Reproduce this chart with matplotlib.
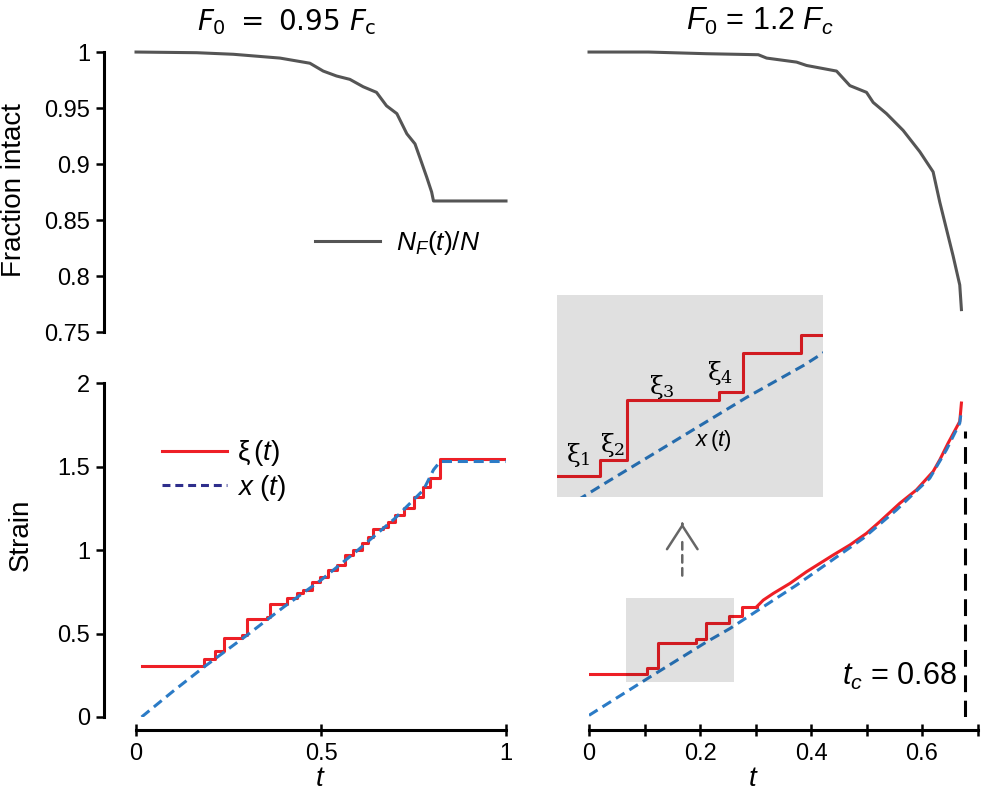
import matplotlib
matplotlib.use("Agg")
import matplotlib.pyplot as plt
from matplotlib.lines import Line2D
from matplotlib.patches import Rectangle
from matplotlib.ticker import FormatStrFormatter

plt.rcParams['font.family'] = ['Liberation Sans', 'DejaVu Sans']
plt.rcParams['mathtext.fontset'] = 'custom'
plt.rcParams['mathtext.rm'] = 'Liberation Sans'
plt.rcParams['mathtext.it'] = 'Liberation Sans:italic'
plt.rcParams['mathtext.bf'] = 'Liberation Sans:bold'
plt.rcParams['mathtext.sf'] = 'Liberation Sans'

# fraction of intact bonds, F0 = 0.95 Fc
t_frac_a = [0, 0.164, 0.263, 0.389, 0.47, 0.506, 0.542, 0.578, 0.614, 0.65, 0.677,
            0.705, 0.732, 0.754, 0.768, 0.786, 0.799, 0.804, 1.0]
frac_a = [1.0, 0.9994, 0.998, 0.9946, 0.990, 0.983, 0.9786, 0.9756, 0.969, 0.964, 0.952,
          0.945, 0.927, 0.918, 0.905, 0.888, 0.875, 0.867, 0.867]

# fraction of intact bonds, F0 = 1.2 Fc
t_frac_b = [0, 0.107, 0.212, 0.305, 0.32, 0.374, 0.392, 0.446, 0.47, 0.50, 0.512, 0.536,
            0.566, 0.596, 0.62, 0.632, 0.644, 0.656, 0.668, 0.671]
frac_b = [1.0, 1.0, 0.9985, 0.9976, 0.9946, 0.991, 0.988, 0.983, 0.970, 0.964, 0.955, 0.945,
          0.930, 0.911, 0.893, 0.866, 0.842, 0.818, 0.792, 0.770]

# strain, F0 = 0.95 Fc
t_xi_a = [0.015, 0.184, 0.214, 0.237, 0.286, 0.300, 0.353, 0.362, 0.408, 0.434, 0.452,
          0.475, 0.497, 0.52, 0.542, 0.565, 0.587, 0.61, 0.628, 0.641, 0.668, 0.682,
          0.70, 0.723, 0.75, 0.777, 0.795, 0.822, 1.0]
xi_a = [0.305, 0.35, 0.397, 0.471, 0.49, 0.585, 0.60, 0.675, 0.711, 0.741, 0.76,
        0.81, 0.836, 0.88, 0.91, 0.97, 1.0, 1.04, 1.08, 1.126, 1.14, 1.17,
        1.21, 1.25, 1.319, 1.379, 1.429, 1.545, 1.545]
t_x_a = [0.015, 0.1, 0.184, 0.3, 0.4, 0.5, 0.6, 0.7, 0.777, 0.804, 0.822, 1.0]
x_a = [0.0, 0.154, 0.30, 0.49, 0.66, 0.82, 1.0, 1.19, 1.36, 1.48, 1.53, 1.53]

# strain, F0 = 1.2 Fc
t_xi_b = [0.0, 0.105, 0.125, 0.192, 0.21, 0.252, 0.275, 0.302]
xi_b = [0.257, 0.295, 0.445, 0.465, 0.56, 0.605, 0.66, 0.66]
t_xi_b_tail = [0.302, 0.314, 0.332, 0.362, 0.392, 0.416, 0.44, 0.47, 0.50, 0.524, 0.56,
               0.59, 0.62, 0.632, 0.647, 0.668, 0.671]
xi_b_tail = [0.66, 0.70, 0.74, 0.80, 0.87, 0.92, 0.97, 1.03, 1.10, 1.17, 1.28,
             1.36, 1.47, 1.54, 1.64, 1.77, 1.88]
t_x_b = [0.0, 0.11, 0.212, 0.254, 0.314, 0.374, 0.434, 0.494, 0.554, 0.614, 0.644, 0.668, 0.671]
x_b = [0.01, 0.24, 0.45, 0.53, 0.66, 0.79, 0.93, 1.07, 1.24, 1.43, 1.60, 1.76, 1.84]

t_crit = 0.677
box_t = (0.067, 0.261)
box_s = (0.21, 0.71)
inset_t = (0.074, 0.268)
inset_s = (0.204, 0.704)

grey = '#555555'
red = '#ee1f26'
blue = '#2b7bc6'
navy = '#2e2e8c'
lw = 2.2

fig = plt.figure(figsize=(9.85, 7.92), dpi=100)
ax_tl = fig.add_axes([0.1381, 0.5808, 0.3756, 0.3535])
ax_bl = fig.add_axes([0.1381, 0.0947, 0.3756, 0.4217])
ax_tr = fig.add_axes([0.598, 0.5808, 0.3944, 0.3535])
ax_br = fig.add_axes([0.598, 0.0947, 0.3944, 0.4217])

for ax in (ax_tl, ax_bl, ax_tr, ax_br):
    for s in ax.spines.values():
        s.set_visible(False)
        s.set_linewidth(2.2)
    ax.tick_params(width=1.8, labelsize=17)
    ax.set_xticks([])
    ax.set_yticks([])
    ax.patch.set_alpha(0)

# top row
ax_tl.plot(t_frac_a, frac_a, color=grey, lw=lw, clip_on=False)
ax_tr.plot(t_frac_b, frac_b, color=grey, lw=lw, clip_on=False)
for ax in (ax_tl, ax_tr):
    ax.set_ylim(0.75, 1.0)
ax_tl.set_xlim(0, 1)
ax_tr.set_xlim(0, 0.7)
ax_tl.spines['left'].set_visible(True)
ax_tl.spines['left'].set_position(('outward', 23))
ax_tl.spines['left'].set_bounds(0.75, 1.0)
ax_tl.set_yticks([0.75, 0.8, 0.85, 0.9, 0.95, 1.0])
ax_tl.yaxis.set_major_formatter(FormatStrFormatter('%g'))
ax_tl.tick_params(axis='y', length=6, pad=4)
ax_tl.legend(handles=[Line2D([], [], color=grey, lw=lw)], labels=[r'$N_{F}(t)/N$'],
             loc='center left', bbox_to_anchor=(0.484, 0.318), frameon=False,
             fontsize=19, handlelength=2.45, handletextpad=0.6, borderpad=0, borderaxespad=0)

# bottom left
ax_bl.plot(t_xi_a, xi_a, color=red, lw=lw, drawstyle='steps-post', zorder=3)
ax_bl.plot(t_x_a, x_a, color=blue, lw=lw, dashes=(3.3, 1.9), zorder=4)
ax_bl.set_xlim(0, 1)
ax_bl.set_ylim(0, 2)
ax_bl.spines['left'].set_visible(True)
ax_bl.spines['left'].set_position(('outward', 23))
ax_bl.spines['left'].set_bounds(0, 2)
ax_bl.spines['bottom'].set_visible(True)
ax_bl.spines['bottom'].set_position(('outward', 9.4))
ax_bl.spines['bottom'].set_bounds(0, 1)
ax_bl.set_yticks([0, 0.5, 1, 1.5, 2])
ax_bl.set_xticks([0, 0.5, 1])
ax_bl.yaxis.set_major_formatter(FormatStrFormatter('%g'))
ax_bl.xaxis.set_major_formatter(FormatStrFormatter('%g'))
ax_bl.tick_params(axis='y', length=6, pad=4)
ax_bl.tick_params(axis='x', direction='inout', length=8, pad=5)
ax_bl.legend(handles=[Line2D([], [], color=red, lw=lw),
                      Line2D([], [], color=navy, lw=lw, dashes=(2.6, 1.6))],
             labels=[r'$\mathrm{\xi}\,(t)$', r'$x\ (t)$'],
             loc='center left', bbox_to_anchor=(0.07, 0.738), frameon=False,
             fontsize=20, handlelength=2.34, handletextpad=0.36, labelspacing=0.15,
             borderpad=0, borderaxespad=0)

# bottom right
ax_br.plot(t_xi_b, xi_b, color=red, lw=lw, drawstyle='steps-post', zorder=3)
ax_br.plot(t_xi_b_tail, xi_b_tail, color=red, lw=lw, zorder=3)
ax_br.plot(t_x_b, x_b, color=blue, lw=lw, dashes=(3.3, 1.9), zorder=4)
ax_br.set_xlim(0, 0.7)
ax_br.set_ylim(0, 2)
ax_br.spines['bottom'].set_visible(True)
ax_br.spines['bottom'].set_position(('outward', 9.4))
ax_br.spines['bottom'].set_bounds(0, 0.7)
ax_br.set_xticks([0, 0.2, 0.4, 0.6])
ax_br.set_xticks([0.1, 0.3, 0.5, 0.7], minor=True)
ax_br.xaxis.set_major_formatter(FormatStrFormatter('%g'))
ax_br.tick_params(axis='x', which='both', direction='inout', length=8, width=1.8, pad=5)
ax_br.add_patch(Rectangle((box_t[0], box_s[0]), box_t[1] - box_t[0], box_s[1] - box_s[0],
                          facecolor='k', alpha=0.12, edgecolor='none', zorder=5))
ax_br.vlines(t_crit, 0, 1.71, colors='k', lw=2.2, linestyles=(0, (5.5, 2.8)), zorder=2)
ax_br.text(0.662, 0.245, r'$t_c$ = 0.68', fontsize=22, ha='right', va='center')

# arrow from the zoom window to the inset
ax_br.annotate('', xy=(0.168, 1.08), xytext=(0.168, 0.83),
               arrowprops=dict(arrowstyle='-', color='#666666', lw=1.8, linestyle=(0, (3, 2.2))))
ax_br.annotate('', xy=(0.168, 1.16), xytext=(0.168, 1.155),
               arrowprops=dict(arrowstyle='->,head_length=0.85,head_width=0.55',
                               color='#666666', lw=1.8, mutation_scale=20))

# inset
ax_in = fig.add_axes([0.5655, 0.3725, 0.2700, 0.2550])
ax_in.plot(t_xi_b, xi_b, color=red, lw=lw, drawstyle='steps-post')
ax_in.plot(t_xi_b_tail, xi_b_tail, color=red, lw=lw)
ax_in.plot(t_x_b, x_b, color=blue, lw=lw, dashes=(3.3, 1.9))
ax_in.add_patch(Rectangle((0, 0), 1, 1, transform=ax_in.transAxes, facecolor='k',
                          alpha=0.12, edgecolor='none', zorder=5))
ax_in.set_xlim(*inset_t)
ax_in.set_ylim(*inset_s)
ax_in.set_xticks([])
ax_in.set_yticks([])
for s in ax_in.spines.values():
    s.set_visible(False)
xi_labels = [(0.0893, 0.308), (0.1148, 0.333), (0.1506, 0.476), (0.1928, 0.511)]
for k, (tx, sy) in enumerate(xi_labels):
    ax_in.text(tx, sy, r'$\mathrm{\xi}_{%d}$' % (k + 1), fontsize=18, ha='center', va='center',
               zorder=6, math_fontfamily='dejavuserif')
ax_in.text(0.1877, 0.345, r'$x\,(t)$', fontsize=16, ha='center', va='center', zorder=6)

# titles and labels
fig.text(0.2914, 0.962, r'$F_0\ =\ 0.95\ F_\mathrm{c}$', fontsize=20, ha='center', va='baseline',
         math_fontfamily='dejavusans')
fig.text(0.7716, 0.962, r'$F_0$ = 1.2 $F_c$', fontsize=22, ha='center', va='baseline')
fig.text(0.0145, 0.76, 'Fraction intact', fontsize=20, rotation=90, ha='center', va='center')
fig.text(0.021, 0.325, 'Strain', fontsize=20, rotation=90, ha='center', va='center')
fig.text(0.325, 0.016, '$t$', fontsize=20, ha='center', va='center')
fig.text(0.7645, 0.016, '$t$', fontsize=20, ha='center', va='center')

fig.savefig('out.png', dpi=100)
